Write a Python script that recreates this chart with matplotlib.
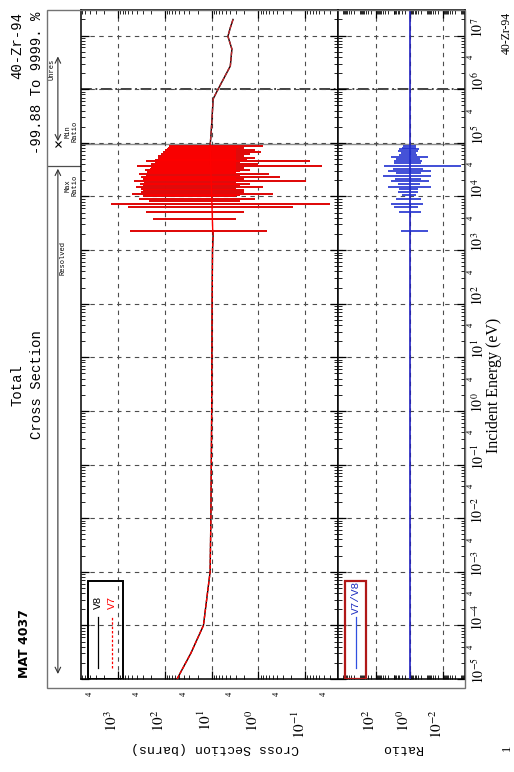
"""
Gráfico rotado de sección eficaz total (V8 vs V7) y su cociente.
"""
import math
import matplotlib
matplotlib.use("Agg")
import matplotlib.pyplot as plt
from matplotlib.patches import Rectangle
from matplotlib.ticker import FixedLocator, FuncFormatter, LogLocator, NullFormatter
from matplotlib.transforms import ScaledTranslation

ANCHO, ALTO = 514, 772

# --- datos (energia en eV, sigma en barns) ---
# fondo suave por debajo de las resonancias
e_fondo = [1e-5, 3e-5, 1e-4, 1e-3, 1e-2, 1e-1, 1.0, 10.0, 100.0, 1e3, 2.0e3, 2.3e3]
s_fondo = [55, 28, 15, 10.8, 10.4, 10.2, 10.0, 9.9, 9.8, 9.6, 9.3, 9.5]

# resonancias resueltas: energia, pico, valle
e_res = [2.3e3, 3.8e3, 5.2e3, 6.4e3, 7.3e3, 8.2e3, 9.0e3, 1.0e4, 1.05e4, 1.1e4,
         1.2e4, 1.3e4, 1.4e4, 1.5e4, 1.6e4, 1.7e4, 1.8e4, 1.95e4, 2.0e4, 2.1e4,
         2.2e4, 2.3e4, 2.45e4, 2.6e4, 2.75e4, 2.9e4, 3.0e4, 3.1e4, 3.25e4, 3.4e4,
         3.55e4, 3.7e4, 3.9e4, 4.1e4, 4.25e4, 4.4e4, 4.6e4, 4.7e4, 4.8e4, 5.05e4,
         5.3e4, 5.5e4, 5.7e4, 5.95e4, 6.2e4, 6.5e4, 6.8e4, 7.1e4, 7.4e4, 7.75e4,
         8.1e4, 8.45e4, 8.8e4]
pico_res = [550, 180, 250, 600, 1400, 220, 350, 300, 250, 500,
            320, 300, 330, 420, 300, 340, 280, 450, 300, 260,
            300, 320, 250, 350, 230, 240, 220, 260, 210, 200,
            190, 400, 170, 200, 160, 150, 250, 140, 160, 130,
            140, 120, 140, 110, 120, 100, 110, 95, 100, 90,
            85, 80, 80]
valle_res = [0.65, 3.0, 2.0, 0.18, 0.03, 2.5, 1.2, 3.0, 2.5, 0.5,
             2.0, 2.0, 3.0, 0.8, 2.5, 1.5, 3.0, 0.095, 2.5, 2.0,
             3.0, 0.35, 2.5, 0.6, 3.0, 3.0, 2.5, 1.5, 3.0, 2.0,
             3.0, 0.045, 3.0, 1.0, 3.0, 2.5, 0.08, 3.0, 1.8, 3.0,
             1.2, 3.0, 2.0, 3.0, 1.5, 3.0, 0.9, 3.0, 1.2, 3.0,
             2.0, 2.5, 0.8]

# rango rapido (por encima de la zona resuelta)
e_rapido = [8.8e4, 1.5e5, 3e5, 6.6e5, 1e6, 2.7e6, 5.6e6, 9.7e6, 1.4e7, 2e7]
s_rapido = [10.8, 10.3, 9.8, 9.3, 7.3, 4.0, 3.7, 4.5, 4.0, 3.5]

# cociente V7/V8 en la zona de resonancias: energia, maximo, minimo
e_cociente = [2.3e3, 5.2e3, 6.4e3, 7.3e3, 9.0e3, 1.05e4, 1.2e4, 1.35e4, 1.5e4,
              1.7e4, 1.9e4, 2.1e4, 2.4e4, 2.7e4, 3.0e4, 3.3e4, 3.7e4, 4.2e4,
              4.6e4, 5.0e4, 5.5e4, 6.0e4, 6.5e4, 7.1e4, 7.7e4, 8.1e4, 8.8e4]
cociente_max = [3.4, 4.5, 9, 13.5, 6.8, 3, 5, 4, 18,
                5, 13.5, 7, 40, 6, 20, 10, 35, 8,
                9, 6, 13.5, 4, 3.4, 5, 4.5, 3, 2.6]
cociente_min = [0.085, 0.22, 0.33, 0.15, 0.22, 0.4, 0.33, 0.3, 0.056,
                0.25, 0.074, 0.2, 0.056, 0.2, 0.056, 0.15, 0.0009, 0.2,
                0.17, 0.25, 0.085, 0.35, 0.44, 0.3, 0.29, 0.4, 0.44]

E_FRONTERA = 9.5e4
E_MAXRAT = 3.7e4
E_MIN, E_MAX = 1e-5, 3e7
SEC_LIM = (6.2e3, 0.02)
RAT_LIM = (10 ** 4.26, 10 ** -3.3)

plt.rcParams["mathtext.fontset"] = "stix"
MONO = "Liberation Mono"
SERIF = "Liberation Serif"


def rect(x0, y0, x1, y1):
    """Caja en pixeles (origen arriba-izquierda) -> fracciones de figura."""
    return [x0 / ANCHO, 1 - y1 / ALTO, (x1 - x0) / ANCHO, (y1 - y0) / ALTO]


def fig_txt(x, y, s, **kw):
    fig.text(x / ANCHO, 1 - y / ALTO, s, **kw)


def fmt_dec(v, pos):
    return r"$10^{%d}$" % int(round(math.log10(v)))


def fmt_cuatro(v, pos):
    m = v / 10 ** math.floor(math.log10(v) + 1e-9)
    return "4" if abs(m - 4) < 0.01 else ""


fig = plt.figure(figsize=(ANCHO / 100, ALTO / 100), dpi=100)

ax_tira = fig.add_axes(rect(47, 10, 81, 679))
ax_sec = fig.add_axes(rect(81, 10, 338, 679), sharey=ax_tira)
ax_rat = fig.add_axes(rect(338, 10, 465, 679), sharey=ax_tira)

# marco exterior gris
fig.patches.append(Rectangle((47 / ANCHO, 1 - 688 / ALTO), (465 - 47) / ANCHO,
                             (688 - 10) / ALTO, transform=fig.transFigure,
                             fill=False, ec="0.45", lw=1.0))

ax_tira.set_yscale("log")
ax_tira.set_ylim(E_MIN, E_MAX)
ax_tira.set_xlim(0, 1)
ax_tira.axis("off")

for ax in (ax_sec, ax_rat):
    ax.set_xscale("log")
    for s in ax.spines.values():
        s.set_linewidth(1.1)
    ax.yaxis.set_major_locator(FixedLocator([10.0 ** k for k in range(-5, 8)]))
    ax.yaxis.set_minor_locator(LogLocator(base=10, subs=range(2, 10), numticks=30))
    ax.tick_params(axis="y", which="both", direction="in", left=True, right=True,
                   labelleft=False, labelright=False)
    ax.tick_params(axis="y", which="major", length=6, width=0.9)
    ax.tick_params(axis="y", which="minor", length=3, width=0.6)
    ax.tick_params(axis="x", which="both", direction="in", top=True, bottom=True)
    ax.tick_params(axis="x", which="major", length=6, width=0.9)
    ax.tick_params(axis="x", which="minor", length=3, width=0.6)
    ax.grid(True, which="major", ls=(0, (4, 4)), color="0.3", lw=0.8)
    ax.axhline(1e6, color="0.2", lw=1.3, ls=(0, (6, 2, 1, 2)), zorder=1)
    ax.axhline(E_FRONTERA, color="0.55", lw=1.0, zorder=1)

# --- panel de seccion eficaz ---
ax_sec.set_xlim(*SEC_LIM)
ax_sec.xaxis.set_major_locator(FixedLocator([1e3, 1e2, 1e1, 1.0, 1e-1]))
ax_sec.xaxis.set_major_formatter(FuncFormatter(fmt_dec))
ax_sec.xaxis.set_minor_locator(LogLocator(base=10, subs=range(2, 10), numticks=30))
ax_sec.xaxis.set_minor_formatter(FuncFormatter(fmt_cuatro))
ax_sec.tick_params(axis="x", which="major", labelrotation=90, labelsize=11, pad=22)
ax_sec.tick_params(axis="x", which="minor", labelrotation=90, labelsize=6, pad=9)

# V8 negro debajo, V7 rojo encima
ax_sec.plot(s_fondo, e_fondo, color="black", lw=1.0, zorder=3)
ax_sec.plot(s_rapido, e_rapido, color="black", lw=1.0, zorder=3)
ax_sec.hlines(e_res, valle_res, pico_res, color="0.25", lw=1.4, zorder=3)
ax_sec.plot(s_fondo, e_fondo, color="red", lw=1.0, ls=(0, (3, 1)), zorder=4)
ax_sec.plot(s_rapido, e_rapido, color="#c0282d", lw=1.0, ls=(0, (3, 1)), zorder=4)
ax_sec.hlines(e_res, valle_res, pico_res, color="red", lw=1.2, zorder=4)
ax_sec.plot([s_fondo[-1], s_rapido[0]], [e_fondo[-1], e_rapido[0]], color="red", lw=1.0, zorder=4)

# leyenda V8 / V7 dibujada a mano (rotada)
ax_sec.add_patch(Rectangle((0.027, 0.0), 0.136, 0.147, transform=ax_sec.transAxes,
                           fill=False, ec="black", lw=1.4, zorder=6))
ax_sec.plot([0.066, 0.066], [0.017, 0.093], transform=ax_sec.transAxes, color="black", lw=0.9)
ax_sec.plot([0.121, 0.121], [0.017, 0.093], transform=ax_sec.transAxes, color="red",
            lw=0.9, ls=(0, (2, 1.5)))
ax_sec.text(0.066, 0.115, "V8", transform=ax_sec.transAxes, rotation=90, ha="center",
            va="center", fontsize=8, family=MONO)
ax_sec.text(0.121, 0.115, "V7", transform=ax_sec.transAxes, rotation=90, ha="center",
            va="center", fontsize=8, family=MONO, color="red")

# --- panel de cociente ---
ax_rat.set_xlim(*RAT_LIM)
ax_rat.xaxis.set_major_locator(FixedLocator([1e2, 1.0, 1e-2]))
ax_rat.xaxis.set_major_formatter(FuncFormatter(fmt_dec))
ax_rat.xaxis.set_minor_locator(LogLocator(base=10, subs=range(2, 10), numticks=30))
ax_rat.xaxis.set_minor_formatter(NullFormatter())
ax_rat.tick_params(axis="x", which="major", labelrotation=90, labelsize=11, pad=22)
ax_rat.yaxis.set_major_formatter(FuncFormatter(fmt_dec))
ax_rat.yaxis.set_minor_formatter(FuncFormatter(fmt_cuatro))
ax_rat.tick_params(axis="y", which="major", labelright=True, labelrotation=90,
                   labelsize=10, pad=4)
ax_rat.tick_params(axis="y", which="minor", labelright=True, labelrotation=90,
                   labelsize=6, pad=1)

ax_rat.axvline(1.0, color="#2020c0", lw=1.2, zorder=3)
ax_rat.hlines(e_cociente, cociente_min, cociente_max, color="#2030d0", lw=1.2, zorder=4)

ax_rat.add_patch(Rectangle((0.055, 0.0), 0.165, 0.147, transform=ax_rat.transAxes,
                           fill=False, ec="#b01818", lw=1.6, zorder=6))
ax_rat.plot([0.14, 0.14], [0.017, 0.093], transform=ax_rat.transAxes, color="#3050e0", lw=0.9)
ax_rat.text(0.14, 0.122, "V7/V8", transform=ax_rat.transAxes, rotation=90, ha="center",
            va="center", fontsize=8, family=MONO, color="#2030c0")

# etiquetas de ticks: fuente serif y pequeno desplazamiento como en el original
izq = ScaledTranslation(-6 / 100, 0, fig.dpi_scale_trans)
arriba = ScaledTranslation(0, 8 / 100, fig.dpi_scale_trans)
for ax in (ax_sec, ax_rat):
    for lab in ax.get_xticklabels(which="both"):
        lab.set_fontfamily(SERIF)
    for lab in ax.get_xticklabels():
        lab.set_transform(lab.get_transform() + izq)
for lab in ax_rat.get_yticklabels(which="both"):
    lab.set_fontfamily(SERIF)
    lab.set_verticalalignment("center")
for lab in ax_rat.get_yticklabels():
    lab.set_transform(lab.get_transform() + arriba)

# --- tira izquierda: rangos resuelto / no resuelto y maximo/minimo del cociente ---
ax_tira.axhline(E_MAXRAT, color="0.3", lw=0.9)
ax_tira.annotate("", xy=(0.32, 1.1e-5), xytext=(0.32, E_MAXRAT),
                 arrowprops=dict(arrowstyle="<->", lw=0.8, color="0.2"))
ax_tira.text(0.46, 700, "Resolved", rotation=90, ha="center", va="center",
             fontsize=5, family=MONO)
ax_tira.annotate("", xy=(0.32, 4.6e6), xytext=(0.32, E_FRONTERA),
                 arrowprops=dict(arrowstyle="<->", lw=0.8, color="0.2"))
ax_tira.text(0.15, 2.3e6, "Unres", rotation=90, ha="center", va="center",
             fontsize=5, family=MONO)
ax_tira.text(0.72, 1.6e4, "Max\nRatio", rotation=90, ha="center", va="center",
             fontsize=5, family=MONO, linespacing=1.0)
ax_tira.text(0.72, 1.6e5, "Min\nRatio", rotation=90, ha="center", va="center",
             fontsize=5, family=MONO, linespacing=1.0)
ax_tira.plot([0.33], [E_FRONTERA], marker="x", color="black", ms=4, mew=0.8)

# --- textos de la figura ---
fig_txt(25, 678, "MAT 4037", rotation=90, ha="center", va="bottom", fontsize=9,
        fontweight="bold", family="DejaVu Sans")
fig_txt(17, 385, "Total", rotation=90, ha="center", va="center", fontsize=10, family=MONO)
fig_txt(37, 385, "Cross Section", rotation=90, ha="center", va="center", fontsize=10,
        family=MONO)
fig_txt(17, 12, "40-Zr-94", rotation=90, ha="center", va="top", fontsize=10, family=MONO)
fig_txt(37, 12, "-99.88 To 9999. %", rotation=90, ha="center", va="top", fontsize=10,
        family=MONO)
fig_txt(507, 12, "40-Zr-94", rotation=90, ha="center", va="top", fontsize=8.5, family=SERIF)
fig_txt(507, 748, "1", rotation=90, ha="center", va="center", fontsize=9, family=SERIF)
fig_txt(494, 385, "Incident Energy (eV)", rotation=90, ha="center", va="center",
        fontsize=11.5, family=SERIF)
fig_txt(215, 748, "Cross Section (barns)", rotation=180, ha="center", va="center",
        fontsize=9.5, family=MONO)
fig_txt(402, 748, "Ratio", rotation=180, ha="center", va="center", fontsize=9.5,
        family=MONO)

fig.savefig("out.png", dpi=100)
